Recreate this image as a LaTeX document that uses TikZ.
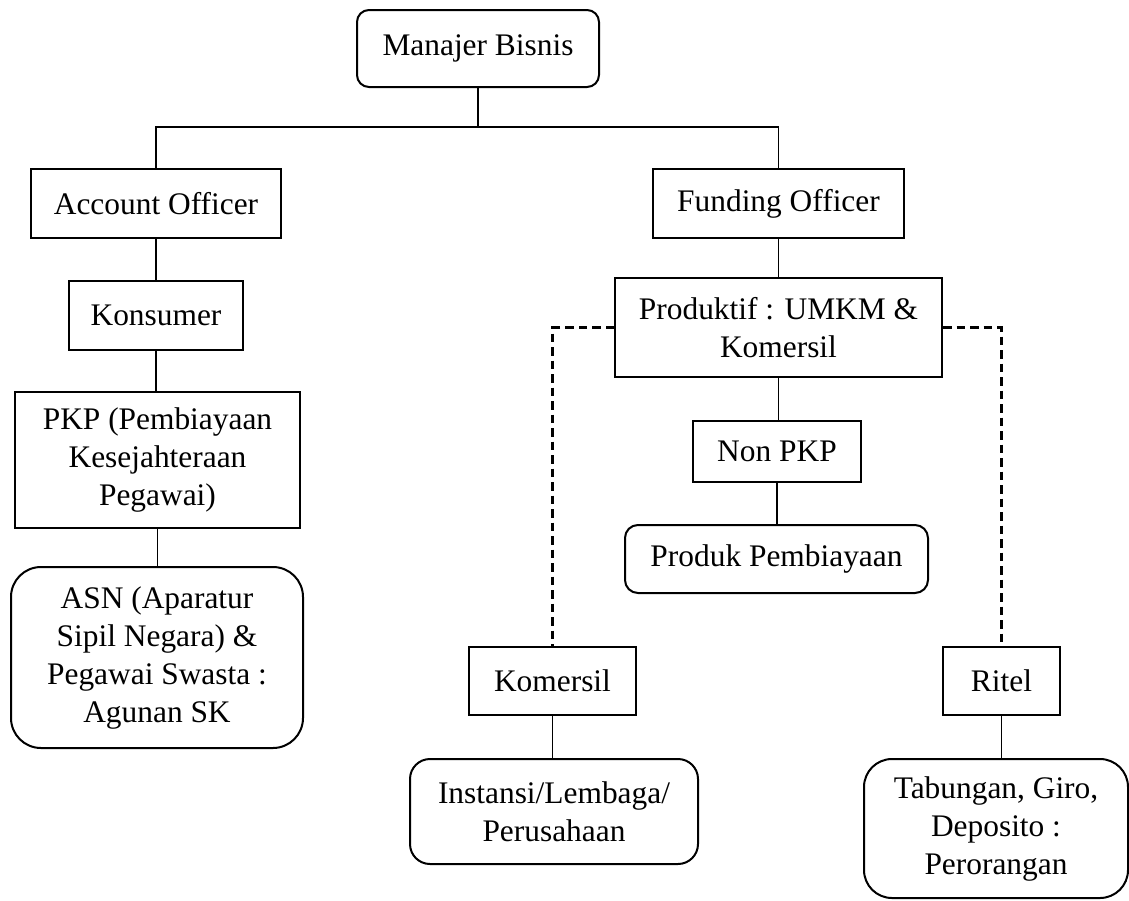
\documentclass[tikz,border=0pt]{standalone}
\usepackage{fontspec}
\setmainfont{Liberation Serif}
\begin{document}
\begin{tikzpicture}[x=1pt,y=-1pt,
  every node/.style={font=\fontsize{31.4}{38}\selectfont, align=center, inner sep=0pt},
  box/.style={draw, line width=2pt},
  rbox/.style={box, rounded corners=#1},
  link/.style={line width=1.7pt},
  dashlink/.style={line width=2.2pt, dash pattern=on 8.5pt off 5pt}]
\useasboundingbox (0,0) rectangle (1129,900);

% top level
\node[rbox=12pt, minimum width=242pt, minimum height=77pt] (mb) at (478,48.5) {Manajer Bisnis};

% officers
\node[box, minimum width=250pt, minimum height=69pt] (ao) at (156,203.5) {Account Officer};
\node[box, minimum width=251pt, minimum height=69pt] (fo) at (778.5,203.5) {Funding Officer};

% consumer branch
\node[box, minimum width=174pt, minimum height=69pt] (ko) at (156,315.5) {Konsumer};
\node[box, minimum width=285pt, minimum height=136pt] (pkp) at (157.5,460) {PKP (Pembiayaan\\Kesejahteraan\\Pegawai)};
\node[rbox=30pt, minimum width=292pt, minimum height=181pt] (asn) at (157,657.5) {ASN (Aparatur\\Sipil Negara) \&\\Pegawai Swasta :\\Agunan SK};

% productive branch
\node[box, minimum width=327pt, minimum height=99pt] (pr) at (778.5,327.5) {Produktif : UMKM \&\\Komersil};
\node[box, minimum width=168pt, minimum height=61pt] (np) at (777,451.5) {Non PKP};
\node[rbox=13pt, minimum width=303pt, minimum height=68pt] (pp) at (776.5,559) {Produk Pembiayaan};

\node[box, minimum width=167pt, minimum height=68pt] (km) at (552.5,681) {Komersil};
\node[rbox=20pt, minimum width=288pt, minimum height=105pt] (ins) at (554,811.5) {Instansi/Lembaga/\\Perusahaan};

\node[box, minimum width=117pt, minimum height=68pt] (rt) at (1001.5,681) {Ritel};
\node[rbox=28pt, minimum width=264pt, minimum height=139pt] (tab) at (996,828.5) {\raisebox{-5pt}{\begin{tabular}{@{}c@{}}Tabungan, Giro,\\Deposito :\\Perorangan\end{tabular}}};

% connectors
\coordinate (bus) at (478,127);
\draw[link] (mb.south) -- (mb.south |- bus);
\draw[link] (ao.north) -- (ao.north |- bus) -- (fo.north |- bus) -- (fo.north);

\draw[link] (ao.south) -- (ao.south |- ko.north);
\draw[link] (ko.south) -- (ko.south |- pkp.north);
\draw[link] (pkp.south) -- (pkp.south |- asn.north);

\draw[link] (fo.south) -- (fo.south |- pr.north);
\draw[link] (pr.south) -- (pr.south |- np.north);
\draw[link] (np.south) -- (np.south |- pp.north);

\draw[dashlink] (pr.west) -| (km.north);
\draw[dashlink] (pr.east) -| (rt.north);

\draw[link] (km.south) -- (km.south |- ins.north);
\draw[link] (rt.south) -- (rt.south |- tab.north);
\end{tikzpicture}
\end{document}
